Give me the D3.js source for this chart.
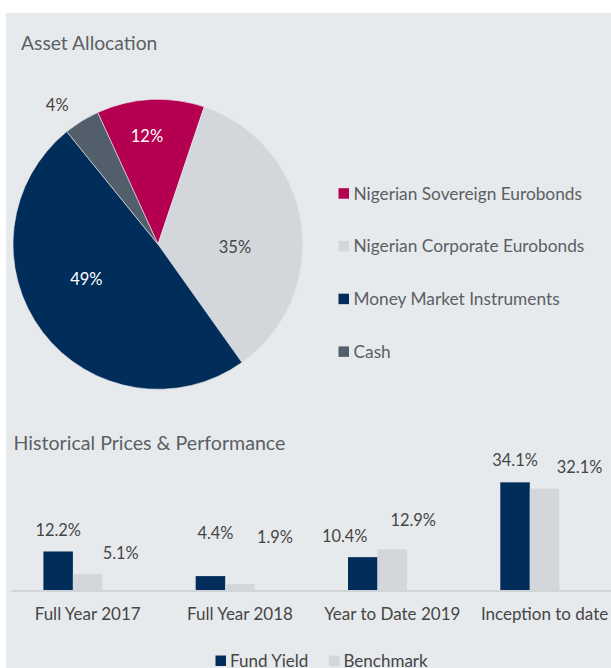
<!DOCTYPE html>
<html><head><meta charset="utf-8">
<script src="https://cdn.jsdelivr.net/npm/d3@7"></script>
<style>
body{margin:0;background:#fff}
svg{display:block;font-family:Lato,"Open Sans",sans-serif}
</style>
</head><body>
<svg id="c" width="611" height="668"></svg>
<script>
// ---------- data ----------
const allocationNames = ["Nigerian Sovereign Eurobonds","Nigerian Corporate Eurobonds","Money Market Instruments","Cash"];
const allocationValues = [12, 35, 49, 4];
const categories = ["Full Year 2017","Full Year 2018","Year to Date 2019","Inception to date"];
const seriesNames = ["Fund Yield","Benchmark"];
const fundYield = [12.2, 4.4, 10.4, 34.1];
const benchmark = [5.1, 1.9, 12.9, 32.1];

// ---------- styles ----------
const pieColors = ["#b50052","#d3d7db","#002d5a","#525e69"];
const barColors = ["#002d5a","#d3d7db"];
const bg = "#e7eaed", titleCol = "#5b5f64", textCol = "#454545";

const svg = d3.select("#c");
svg.append("rect").attr("x",6).attr("y",13).attr("width",605).attr("height",655).attr("fill",bg);

// ---------- pie ----------
svg.append("text").attr("x",21).attr("y",50).attr("font-size",19.3).attr("fill",titleCol).text("Asset Allocation");

const cx = 158, cy = 244.3, R = 145;
const deg = Math.PI/180;
const pie = d3.pie().sort(null).value(d=>d).startAngle(-24.6*deg).endAngle(-24.6*deg + 2*Math.PI);
const arcs = pie(allocationValues);
const arc = d3.arc().innerRadius(0).outerRadius(R);
const gp = svg.append("g").attr("transform",`translate(${cx},${cy})`);
gp.selectAll("path").data(arcs).join("path")
  .attr("d",arc).attr("fill",(d,i)=>pieColors[i])
  .attr("stroke",bg).attr("stroke-width",0.6);

// label placement (fraction of radius, relative to centre)
const pieLabelPos = [[-0.076,-0.746],[0.531,0.017],[-0.494,0.24],[-0.695,-0.96]];
const pieLabelCol = ["#ffffff","#454545","#ffffff","#454545"];
gp.selectAll("text.pl").data(arcs).join("text").attr("class","pl")
  .attr("x",(d,i)=>pieLabelPos[i][0]*R).attr("y",(d,i)=>pieLabelPos[i][1]*R)
  .attr("dy","0.35em").attr("text-anchor","middle").attr("font-size",16.5)
  .attr("fill",(d,i)=>pieLabelCol[i]).text(d=>d.value+"%");

// legend
const lg = svg.append("g");
const legY = d3.scalePoint().domain(allocationNames).range([193.5, 351.7]);
allocationNames.forEach((n,i)=>{
  lg.append("rect").attr("x",338.5).attr("y",legY(n)-5.3).attr("width",10.5).attr("height",10.5).attr("fill",pieColors[i]);
  lg.append("text").attr("x",353.5).attr("y",legY(n)).attr("dy","0.35em").attr("font-size",17.3).attr("fill",titleCol).text(n);
});

// ---------- bar chart ----------
svg.append("text").attr("x",13.5).attr("y",449.5).attr("font-size",19.6).attr("fill",titleCol).text("Historical Prices & Performance");

const x0 = d3.scaleBand().domain(categories).range([11.5, 620.7]).padding(0);
const slots = ["Fund Yield","Benchmark","_spare"];
const x1 = d3.scaleBand().domain(slots).range([31.9, 120.4]).padding(0);
const y = d3.scaleLinear().domain([0,40]).range([590, 463.7]);

const series = [fundYield, benchmark];
const labelNudge = [
  [[0,-21.7],[33,-20.7]],
  [[5,-42.7],[35,-47]],
  [[-18,-20.6],[21,-29]],
  [[0,-21.6],[35,-21.6]]
];
const gb = svg.append("g");
categories.forEach((c,ci)=>{
  series.forEach((s,si)=>{
    const bx = x0(c)+x1(seriesNames[si]);
    const bw = x1.bandwidth();
    gb.append("rect").attr("x",bx).attr("y",y(s[ci])).attr("width",bw).attr("height",y(0)-y(s[ci])).attr("fill",barColors[si]);
    gb.append("text").attr("x",bx+bw/2+labelNudge[ci][si][0]).attr("y",y(s[ci])+labelNudge[ci][si][1])
      .attr("dy","0.35em").attr("text-anchor","middle").attr("font-size",16.4).attr("fill",textCol)
      .text(s[ci].toFixed(1)+"%");
  });
});
// axis
gb.append("line").attr("x1",x0.range()[0]).attr("x2",611).attr("y1",y(0)+1).attr("y2",y(0)+1)
  .attr("stroke","#d2d5d8").attr("stroke-width",2);
const xa = gb.append("g").attr("transform",`translate(0,${y(0)})`).call(d3.axisBottom(x0).tickSize(0).tickPadding(0));
xa.select(".domain").remove();
xa.selectAll("text").attr("y",24).attr("dy","0.35em").attr("font-size",17).attr("fill",textCol).attr("font-family","Lato,'Open Sans',sans-serif");

// bar legend
const bl = svg.append("g");
const blX = [215.5, 329];
seriesNames.forEach((n,i)=>{
  bl.append("rect").attr("x",blX[i]).attr("y",655.5).attr("width",10.5).attr("height",10.5).attr("fill",barColors[i]);
  bl.append("text").attr("x",blX[i]+14.5).attr("y",660.7).attr("dy","0.35em").attr("font-size",17).attr("fill",textCol).text(n);
});
</script>
</body></html>
